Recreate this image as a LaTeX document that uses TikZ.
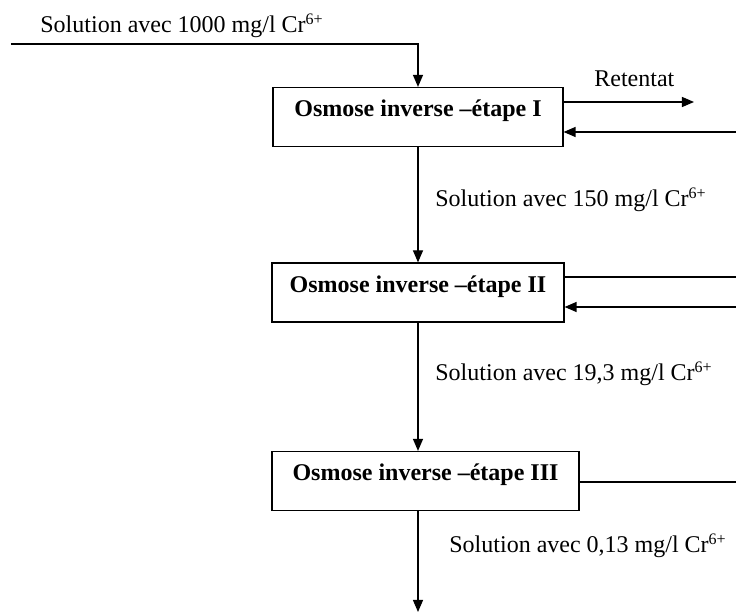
\documentclass[tikz,border=0pt]{standalone}
\usepackage{fontspec}
\setmainfont{Liberation Serif}
\usetikzlibrary{arrows.meta}

\begin{document}
\begin{tikzpicture}[x = 0.5pt, y = -0.5pt, font = \fontsize{12}{14}\selectfont,
  stage/.style = {draw, line width = 0.6pt, inner xsep = 8pt, inner ysep = 0pt,
    minimum height = 29.5pt, text height = 8pt, text depth = 8pt, font = \fontsize{12}{14}\selectfont\bfseries},
  flow/.style = {line width = 0.6pt, -{Triangle[length = 6pt, width = 5pt]}},
  pipe/.style = {line width = 0.6pt},
  tag/.style = {anchor = base west, inner sep = 0pt}]
\useasboundingbox (0,0) rectangle (736,614);

\node[stage, minimum width = 145pt] (s1) at (418,117) {Osmose inverse –étape I};
\node[stage, minimum width = 146pt] (s2) at (418,292.5) {Osmose inverse –étape II};
\node[stage, minimum width = 153.5pt] (s3) at (425.5,481) {Osmose inverse –étape III};

\node[tag] (c0) at (40,33) {Solution avec 1000 mg/l Cr\textsuperscript{6+}};
\node[tag] (c1) at (435,207) {Solution avec 150 mg/l Cr\textsuperscript{6+}};
\node[tag] (c2) at (435,381) {Solution avec 19,3 mg/l Cr\textsuperscript{6+}};
\node[tag] (c3) at (449,553) {Solution avec 0,13 mg/l Cr\textsuperscript{6+}};
\node[tag] (retentat) at (594,87) {Retentat};

\coordinate (feed) at (11,44);
\coordinate (ret) at (694,102);
\coordinate (back1) at (736,132);
\coordinate (out2) at (736,277);
\coordinate (back2) at (736,307);
\coordinate (out3) at (736,482);
\coordinate (prod) at (418,612);

\draw[flow] (feed) -| (s1.north);
\draw[flow] (s1.east |- ret) -- (ret);
\draw[flow] (back1) -- (s1.east |- back1);

\draw[flow] (s1.south) -- (s2.north);
\draw[pipe] (s2.east |- out2) -- (out2);
\draw[flow] (back2) -- (s2.east |- back2);

\draw[flow] (s2.south) -- (s2.south |- s3.north);
\draw[pipe] (s3.east |- out3) -- (out3);

\draw[flow] (prod |- s3.south) -- (prod);
\end{tikzpicture}
\end{document}
